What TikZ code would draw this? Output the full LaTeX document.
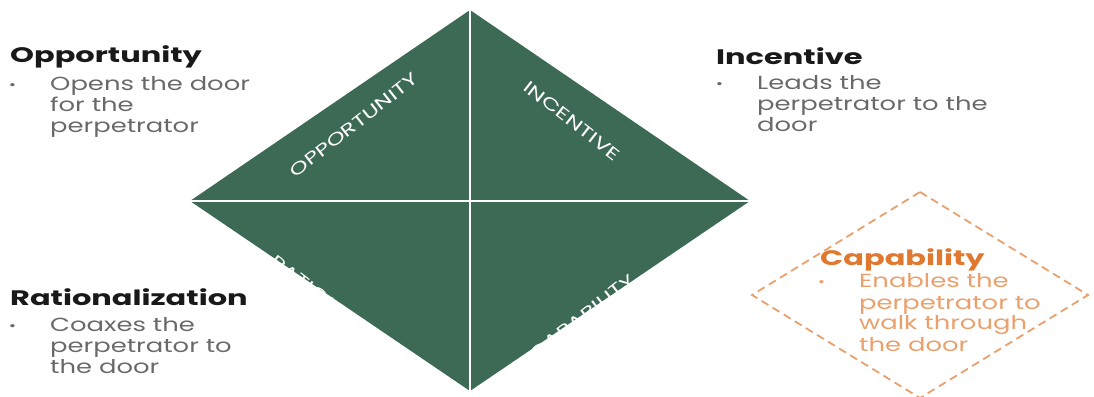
\documentclass[tikz,border=0pt]{standalone}
\usepackage{fontspec}
\setmainfont{Poppins}
\newfontfamily\headfont[FakeStretch=1.45]{Poppins}
\newfontfamily\bodyfont[FakeStretch=1.36]{Poppins}
\newfontfamily\quadfont[FakeStretch=1.4]{Poppins}
\usepackage{xcolor}
\usepackage{tikz}
\usetikzlibrary{positioning,decorations.text}

\definecolor{fraudgreen}{RGB}{60,106,84}
\definecolor{headgray}{RGB}{25,25,25}
\definecolor{bodygray}{RGB}{105,105,105}
\definecolor{capaorange}{RGB}{224,120,48}
\definecolor{capalight}{RGB}{234,160,108}

% bullet hung 37pt left of the text
\newcommand{\bul}{\makebox[0pt][r]{\raisebox{1.5pt}{\fontsize{13}{13}\selectfont\textbullet}\hspace{34pt}}}

\begin{document}
\begin{tikzpicture}[x=1pt, y=1pt,
    quadlbl/.style={decorate, decoration={text along path, text align=center,
        raise=-6pt, text={|\quadfont\fontsize{17}{17}\selectfont\color{white}|#1}}},
    head/.style={font=\headfont\fontsize{21}{24}\selectfont\bfseries, text=headgray,
        inner sep=0pt, anchor=base west},
    body/.style={font=\bodyfont\fontsize{19}{21}\selectfont, text=bodygray,
        align=left, inner sep=0pt},
    split/.style={draw=white, line width=1.6pt},
]
\useasboundingbox (0,0) rectangle (1094,396);

% Diamond corners
\coordinate (top) at (470,386);
\coordinate (left) at (190,195);
\coordinate (right) at (750,195);
\coordinate (bottom) at (470,5);

% Green diamond split in four
\fill[fraudgreen] (top) -- (right) -- (bottom) -- (left) -- cycle;
\draw[split] (top) -- (bottom);
\draw[split] (left) -- (right);

% Quadrant labels, set along tilted lines
\coordinate (oppc) at (354,271);
\coordinate (incc) at (572,275);
\coordinate (ratc) at (352,76);
\coordinate (capc) at (582,79);
\path[quadlbl=OPPORTUNITY] ([shift={(218:120)}]oppc) -- ([shift={(38:120)}]oppc);
\path[quadlbl=INCENTIVE] ([shift={(142:120)}]incc) -- ([shift={(-38:120)}]incc);
\path[quadlbl=RATIONALIZATION] ([shift={(142:120)}]ratc) -- ([shift={(-38:120)}]ratc);
\path[quadlbl=CAPABILITY] ([shift={(218:120)}]capc) -- ([shift={(38:120)}]capc);

% Side notes (base of a body node is its last line)
\node[head] (opphead) at (10,333) {Opportunity};
\node[body, below right=70pt and 40pt of opphead.base west, anchor=base west] (opptext)
    {\bul Opens the door\\for the\\perpetrator};

\node[head] (inchead) at (716,331) {Incentive};
\node[body, below right=67pt and 41pt of inchead.base west, anchor=base west] (inctext)
    {\bul Leads the\\perpetrator to the\\door};

\node[head] (rathead) at (10,90) {Rationalization};
\node[body, below right=68pt and 40pt of rathead.base west, anchor=base west] (rattext)
    {\bul Coaxes the\\perpetrator to\\the door};

% Highlighted side
\draw[capalight, line width=1.8pt, dash pattern=on 8pt off 5pt]
    (920,204) -- (1088,101) -- (920,-2) -- (752,101) -- cycle;
\node[head, text=capaorange] (caphead) at (820,130) {Capability};
\node[body, text=capalight, below right=85pt and 39pt of caphead.base west,
    anchor=base west] (captext)
    {\bul Enables the\\perpetrator to\\walk through\\the door};

\end{tikzpicture}
\end{document}
